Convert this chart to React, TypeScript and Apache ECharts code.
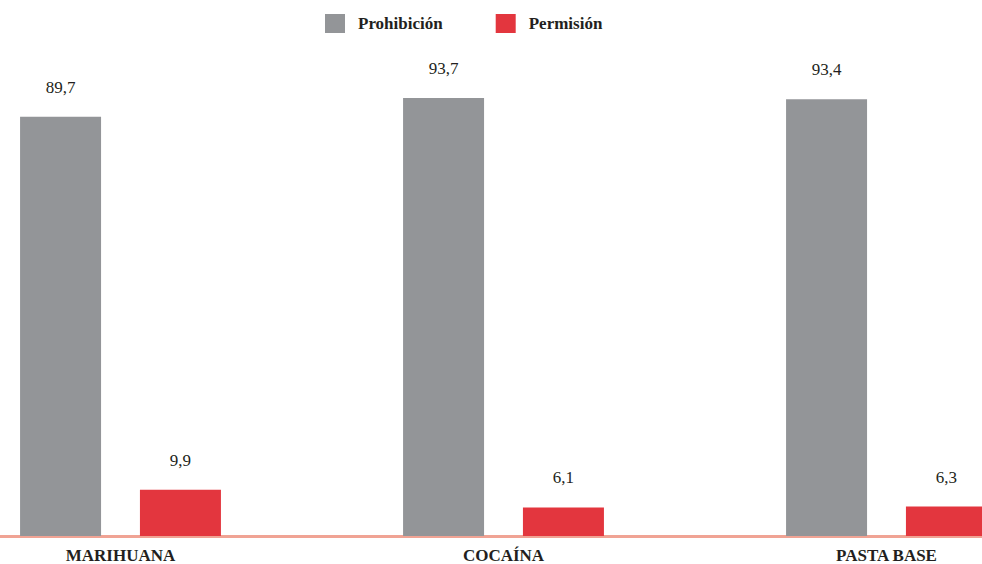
import React, { useEffect, useRef } from "react";
import * as echarts from "echarts";

const categories = ["MARIHUANA", "COCAÍNA", "PASTA BASE"];
const prohibicion = [89.7, 93.7, 93.4];
const permision = [9.9, 6.1, 6.3];
const seriesNames = ["Prohibición", "Permisión"];

const FONT = "'Liberation Serif', 'DejaVu Serif', serif";
const SHIFT = 71;

export default function App() {
  const ref = useRef<HTMLDivElement>(null);
  useEffect(() => {
    if (!ref.current) return;
    const chart = echarts.init(ref.current, undefined, { renderer: "svg" });
    const fmt = (p: any) => String(p.value).replace(".", ",");
    const valueLabel = {
      show: true,
      position: "top",
      distance: 21,
      formatter: fmt,
      fontFamily: FONT,
      fontSize: 17,
      color: "#231f20",
    };
    chart.setOption({
      animation: false,
      backgroundColor: "#ffffff",
      textStyle: { fontFamily: FONT },
      legend: {
        data: seriesNames,
        top: 14,
        left: 325 + SHIFT,
        padding: 0,
        itemWidth: 20,
        itemHeight: 19,
        itemGap: 53,
        icon: "rect",
        textStyle: {
          fontFamily: FONT,
          fontWeight: "bold",
          fontSize: 17,
          color: "#231f20",
          padding: [0, 0, 0, 8],
        },
      },
      grid: { left: 0, right: 0, top: 68.5, bottom: 25.5, containLabel: false },
      xAxis: {
        type: "category",
        data: categories,
        axisLine: { show: true, lineStyle: { color: "#f0a394", width: 3 } },
        axisTick: { show: false },
        axisLabel: {
          fontFamily: FONT,
          fontWeight: "bold",
          fontSize: 17,
          color: "#231f20",
          margin: 11,
        },
      },
      yAxis: {
        type: "value",
        min: 0,
        max: 100,
        show: false,
        splitLine: { show: false },
      },
      series: [
        {
          name: seriesNames[0],
          type: "bar",
          data: prohibicion,
          barWidth: 81,
          barGap: "48%",
          itemStyle: { color: "#939598" },
          label: valueLabel,
        },
        {
          name: seriesNames[1],
          type: "bar",
          data: permision,
          barWidth: 81,
          itemStyle: { color: "#e3363e" },
          label: valueLabel,
        },
      ],
    });
    return () => chart.dispose();
  }, []);
  return (
    <div
      style={{
        position: "absolute",
        left: 0,
        top: 0,
        width: 982,
        height: 564,
        overflow: "hidden",
        background: "#ffffff",
      }}
    >
      <div
        ref={ref}
        style={{ position: "absolute", left: -SHIFT, top: 0, width: 1149, height: 564 }}
      />
    </div>
  );
}
